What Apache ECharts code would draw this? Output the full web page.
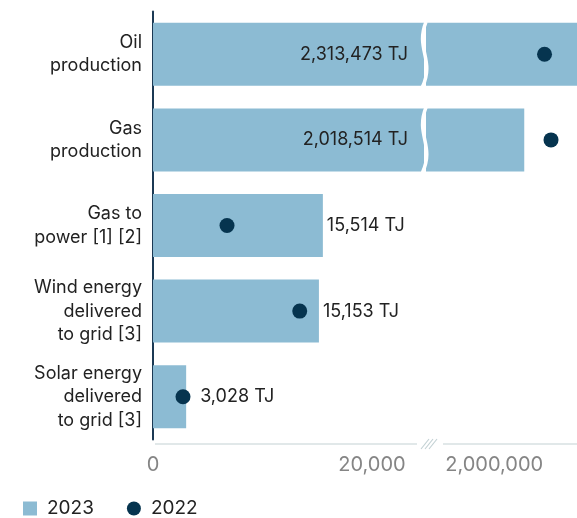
<!DOCTYPE html>
<html>
<head>
<meta charset="utf-8">
<script src="https://cdn.jsdelivr.net/npm/echarts@6/dist/echarts.min.js"></script>
<style>
  html, body { margin: 0; padding: 0; background: #fff; }
  #chart { width: 577px; height: 518px; }
</style>
</head>
<body>
<div id="chart"></div>
<script>
// Energy volumes by activity, in terajoules
const categories = [
  'Oil\nproduction',
  'Gas\nproduction',
  'Gas to\npower [1] [2]',
  'Wind energy\ndelivered\nto grid [3]',
  'Solar energy\ndelivered\nto grid [3]'
];
const values2023 = [2313473, 2018514, 15514, 15153, 3028];
const values2022 = [2031000, 2035000, 6760, 13400, 2740];
const lowTicks = [0, 20000];
const highTicks = [2000000];

// Broken value axis: a low segment and a high segment side by side
const LOW_MAX = 24750;
const HIGH_MIN = 1958000;
const HIGH_MAX = 2051000;

const BAR_COLOR = '#8cbbd3';
const DOT_COLOR = '#06344f';
const AXIS_DARK = '#1b3954';
const AXIS_LIGHT = '#c3d1d4';
const TICK_COLOR = '#858585';
const TEXT_COLOR = '#222';
const FONT = 'Inter';

const fmt = v => v.toLocaleString('en-US');

const chart = echarts.init(document.getElementById('chart'));

const gridTop = 11.5, gridHeight = 428;

const lowBars = values2023.map((v, i) => {
  const item = { value: v };
  if (v > LOW_MAX) {
    item.label = { position: 'insideRight', distance: 16 };
  } else {
    // push the label clear of the 2022 dot when it sits near the bar end
    const near = Math.abs(v - values2022[i]) < 1000;
    item.label = { position: 'right', distance: near ? 14 : 4 };
  }
  return item;
});
const highBars = values2023.map(v => (v > LOW_MAX ? v : '-'));
const lowDots = values2022.map(v => (v <= LOW_MAX ? v : '-'));
const highDots = values2022.map(v => (v > LOW_MAX ? v : '-'));

const tickLabel = values => ({
  customValues: values, formatter: v => fmt(v),
  color: TICK_COLOR, fontSize: 20, fontFamily: FONT, margin: 11
});

const option = {
  animation: false,
  textStyle: { fontFamily: FONT },
  grid: [
    { left: 153, top: gridTop, width: 271, height: gridHeight },
    { left: 426, top: gridTop, right: 0, height: gridHeight }
  ],
  xAxis: [
    {
      gridIndex: 0, type: 'value', min: 0, max: LOW_MAX, offset: 4,
      axisLine: { show: false }, axisTick: { show: false }, splitLine: { show: false },
      axisLabel: tickLabel(lowTicks)
    },
    {
      gridIndex: 1, type: 'value', min: HIGH_MIN, max: HIGH_MAX, offset: 4,
      axisLine: { show: false }, axisTick: { show: false }, splitLine: { show: false },
      axisLabel: tickLabel(highTicks)
    }
  ],
  yAxis: [
    {
      gridIndex: 0, type: 'category', inverse: true, data: categories,
      axisLine: { show: true, lineStyle: { color: AXIS_DARK, width: 2 } },
      axisTick: { show: false },
      axisLabel: {
        color: TEXT_COLOR, fontSize: 18, lineHeight: 23.5, margin: 11,
        align: 'right', fontFamily: FONT
      }
    },
    {
      gridIndex: 1, type: 'category', inverse: true, data: categories,
      axisLine: { show: false }, axisTick: { show: false }, axisLabel: { show: false }
    }
  ],
  legend: {
    left: 23, top: 499, padding: 0,
    itemWidth: 14, itemHeight: 14, itemGap: 33,
    textStyle: { fontSize: 19, color: TEXT_COLOR, fontFamily: FONT, padding: [0, 0, 0, 5] },
    data: [{ name: '2023', icon: 'rect' }, { name: '2022', icon: 'circle' }]
  },
  series: [
    {
      name: '2023', type: 'bar', xAxisIndex: 0, yAxisIndex: 0,
      barWidth: 63, data: lowBars, clip: true,
      itemStyle: { color: BAR_COLOR },
      label: {
        show: true, color: TEXT_COLOR, fontSize: 18, fontFamily: FONT,
        formatter: p => fmt(values2023[p.dataIndex]) + ' TJ'
      }
    },
    {
      name: '2023', type: 'bar', xAxisIndex: 1, yAxisIndex: 1,
      barWidth: 63, data: highBars, clip: true,
      itemStyle: { color: BAR_COLOR }
    },
    {
      name: '2022', type: 'scatter', xAxisIndex: 0, yAxisIndex: 0,
      symbolSize: 15, data: lowDots, itemStyle: { color: DOT_COLOR, opacity: 1 }, z: 5
    },
    {
      name: '2022', type: 'scatter', xAxisIndex: 1, yAxisIndex: 1,
      symbolSize: 15, data: highDots, itemStyle: { color: DOT_COLOR, opacity: 1 }, z: 5
    }
  ]
};

chart.setOption(option);

// Break decorations: wavy cuts through the long bars and the axis break mark
function drawBreaks() {
  const lowRight = chart.convertToPixel({ xAxisIndex: 0 }, LOW_MAX);
  const lowLeft = chart.convertToPixel({ xAxisIndex: 0 }, 0);
  const highLeft = chart.convertToPixel({ xAxisIndex: 1 }, HIGH_MIN);
  const highRight = chart.convertToPixel({ xAxisIndex: 1 }, HIGH_MAX);
  const cutX = (lowRight + highLeft) / 2;
  const axisY = gridTop + gridHeight + 4.5;
  const halfBar = 31.5;
  const elements = [];

  values2023.forEach((v, i) => {
    if (v <= LOW_MAX) return;
    const cy = chart.convertToPixel({ yAxisIndex: 0 }, i);
    const top = cy - halfBar - 1, bottom = cy + halfBar + 1;
    const h = bottom - top;
    elements.push({
      type: 'bezierCurve', z: 100,
      shape: {
        x1: cutX + 1, y1: top,
        cpx1: cutX - 10, cpy1: top + h * 0.42,
        cpx2: cutX + 10, cpy2: top + h * 0.58,
        x2: cutX - 2.5, y2: bottom
      },
      style: { stroke: '#fff', lineWidth: 3.5, fill: null }
    });
  });

  // axis lines either side of the break
  elements.push({
    type: 'line', z: 50,
    shape: { x1: lowLeft + 2, y1: axisY, x2: cutX - 8, y2: axisY },
    style: { stroke: AXIS_LIGHT, lineWidth: 1.2 }
  });
  elements.push({
    type: 'line', z: 50,
    shape: { x1: cutX + 18, y1: axisY, x2: highRight, y2: axisY },
    style: { stroke: AXIS_LIGHT, lineWidth: 1.2 }
  });
  // slanted break mark
  [-4, 0, 4].forEach(dx => {
    elements.push({
      type: 'line', z: 50,
      shape: { x1: cutX + dx, y1: axisY + 5, x2: cutX + dx + 8, y2: axisY - 5 },
      style: { stroke: AXIS_LIGHT, lineWidth: 1.2 }
    });
  });

  chart.setOption({ graphic: elements });
}
drawBreaks();
</script>
</body>
</html>
